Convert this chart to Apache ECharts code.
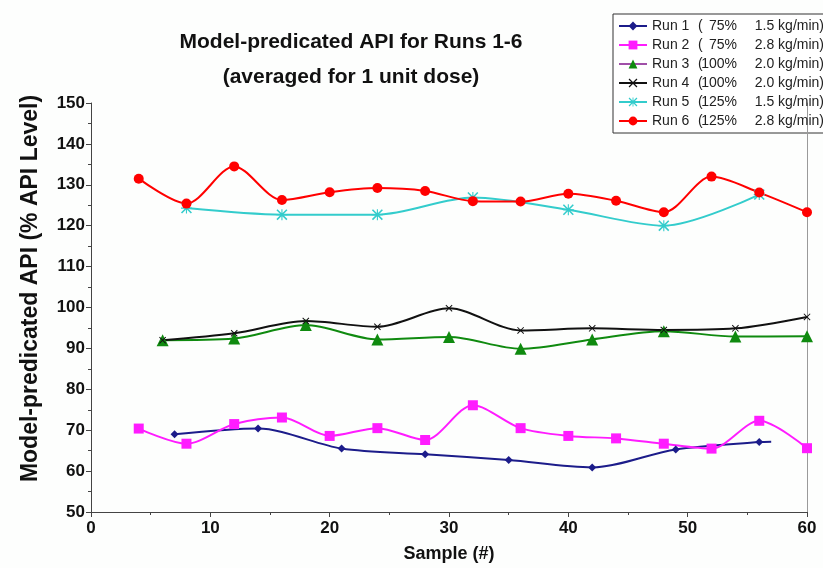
<!DOCTYPE html>
<html>
<head>
<meta charset="utf-8">
<script src="https://cdn.jsdelivr.net/npm/echarts@6/dist/echarts.min.js"></script>
<style>
    html, body { margin: 0; padding: 0; background: #fdfefd; }
    #main { width: 823px; height: 568px; }
</style>
</head>
<body>
<div id="main"></div>
<script>
    // legend labels
    const runNames = ['Run 1', 'Run 2', 'Run 3', 'Run 4', 'Run 5', 'Run 6'];
    const runPct = ['  75%', '  75%', '100%', '100%', '125%', '125%'];
    const runRate = ['1.5 kg/min)', '2.8 kg/min)', '2.0 kg/min)', '2.0 kg/min)', '1.5 kg/min)', '2.8 kg/min)'];

    // sample numbers and predicted API per run
    const run1X = [7, 14, 21, 28, 35, 42, 49, 56, 57];
    const run1Y = [69.0, 70.4, 65.5, 64.1, 62.7, 60.9, 65.3, 67.1, 67.2];
    const run2X = [4, 8, 12, 16, 20, 24, 28, 32, 36, 40, 44, 48, 52, 56, 60];
    const run2Y = [70.4, 66.7, 71.5, 73.1, 68.6, 70.5, 67.6, 76.1, 70.5, 68.6, 68.0, 66.7, 65.5, 72.3, 65.6];
    const run3X = [6, 12, 18, 24, 30, 36, 42, 48, 54, 60];
    const run3Y = [92.0, 92.4, 95.7, 92.2, 92.8, 89.9, 92.2, 94.2, 92.9, 93.0];
    const run4X = [6, 12, 18, 24, 30, 36, 42, 48, 54, 60];
    const run4Y = [92.0, 93.7, 96.7, 95.3, 99.8, 94.4, 94.9, 94.5, 94.9, 97.7];
    const run5X = [8, 16, 24, 32, 40, 48, 56];
    const run5Y = [124.3, 122.7, 122.7, 126.9, 123.9, 120.0, 127.6];
    const run6X = [4, 8, 12, 16, 20, 24, 28, 32, 36, 40, 44, 48, 52, 56, 60];
    const run6Y = [131.5, 125.4, 134.5, 126.3, 128.2, 129.2, 128.5, 126.0, 125.9, 127.8, 126.1, 123.3, 132.0, 128.1, 123.3];

    const xTicks = { min: 0, max: 60, step: 10 };
    const yTicks = { min: 50, max: 150, step: 10 };

    const crossPath = 'path://M0,2L2,0L20,18L18,20ZM18,0L20,2L2,20L0,18Z';
    const starPath = 'path://M9,0L11,0L11,20L9,20ZM0,9L20,9L20,11L0,11ZM0,2L2,0L20,18L18,20ZM18,0L20,2L2,20L0,18Z';

    function pairs(xs, ys) {
        return xs.map((x, i) => [x, ys[i]]);
    }

    // run 1's line runs on a little past its last marker
    const run1Data = pairs(run1X, run1Y).map((p, i) =>
        i === run1X.length - 1 ? { value: p, symbol: 'none' } : p);

    const runs = [
        { data: run1Data, color: '#1c1c8a', symbol: 'diamond', size: 8 },
        { data: pairs(run2X, run2Y), color: '#ff1cff', symbol: 'rect', size: 10 },
        { data: pairs(run3X, run3Y), color: '#0f8a0f', symbol: 'triangle', size: 12 },
        { data: pairs(run4X, run4Y), color: '#111111', symbol: crossPath, size: 7 },
        { data: pairs(run5X, run5Y), color: '#33cccc', symbol: starPath, size: 11 },
        { data: pairs(run6X, run6Y), color: '#ff0000', symbol: 'circle', size: 10 }
    ];

    const font = '"Liberation Sans", Arial, sans-serif';
    const legendText = { fontSize: 14, lineHeight: 14, color: '#222' };

    const option = {
        backgroundColor: '#fdfefd',
        animation: false,
        textStyle: { fontFamily: font },
        title: {
            text: 'Model-predicated API for Runs 1-6\n(averaged for 1 unit dose)',
            left: 346,
            top: 20,
            textAlign: 'center',
            textStyle: { fontSize: 21, fontWeight: 'bold', color: '#111', lineHeight: 35 }
        },
        // legend frame runs off the right edge, as in the source
        graphic: [{
            type: 'rect',
            z: 0,
            shape: { x: 613, y: 14, width: 240, height: 119 },
            style: { fill: '#ffffff', stroke: '#333', lineWidth: 1 }
        }],
        legend: {
            orient: 'vertical',
            left: 613,
            top: 14,
            padding: [5, 0, 4, 5],
            itemWidth: 28,
            itemHeight: 11,
            itemGap: 5,
            z: 5,
            data: runNames.map((n, i) => i === 2
                ? { name: n, lineStyle: { color: '#a050a8' } }
                : { name: n }),
            formatter: function (name) {
                const i = runNames.indexOf(name);
                return '{a|' + name + '}{b|(}{c|' + runPct[i].trim() + '}{d|' + runRate[i] + '}';
            },
            textStyle: {
                fontSize: 14,
                lineHeight: 14,
                color: '#222',
                rich: {
                    a: Object.assign({ width: 46 }, legendText),
                    b: Object.assign({ width: 5 }, legendText),
                    c: Object.assign({ width: 34, align: 'right' }, legendText),
                    d: Object.assign({ width: 87, align: 'right' }, legendText)
                }
            }
        },
        grid: { left: 91, right: 16, top: 103, bottom: 55 },
        xAxis: {
            type: 'value',
            min: xTicks.min,
            max: xTicks.max,
            interval: xTicks.step,
            name: 'Sample (#)',
            nameLocation: 'middle',
            nameGap: 33,
            nameTextStyle: { fontSize: 18, fontWeight: 'bold', color: '#111' },
            axisLine: { lineStyle: { color: '#444', width: 1 } },
            axisTick: { length: 5, lineStyle: { color: '#444' } },
            minorTick: { show: true, splitNumber: 2, length: 3, lineStyle: { color: '#444' } },
            splitLine: { show: false },
            axisLabel: { fontSize: 17, fontWeight: 'bold', color: '#111', margin: 8 }
        },
        yAxis: [{
            type: 'value',
            min: yTicks.min,
            max: yTicks.max,
            interval: yTicks.step,
            name: 'Model-predicated API (% API Level)',
            nameLocation: 'middle',
            nameGap: 49,
            nameTextStyle: { fontSize: 23, fontWeight: 'bold', color: '#111', padding: [0, 0, 0, 38] },
            axisLine: { show: true, lineStyle: { color: '#444', width: 1 } },
            axisTick: { show: true, length: 5, lineStyle: { color: '#444' } },
            minorTick: { show: true, splitNumber: 2, length: 3, lineStyle: { color: '#444' } },
            splitLine: { show: false },
            axisLabel: { fontSize: 17, fontWeight: 'bold', color: '#111', margin: 6 }
        }, {
            type: 'value',
            position: 'right',
            min: yTicks.min,
            max: yTicks.max,
            interval: yTicks.step,
            axisLine: { show: true, lineStyle: { color: '#9a9a9a', width: 1 } },
            axisTick: { show: false },
            axisLabel: { show: false },
            splitLine: { show: false }
        }],
        series: runs.map((r, i) => ({
            name: runNames[i],
            type: 'line',
            data: r.data,
            smooth: 0.3,
            symbol: r.symbol,
            symbolSize: r.size,
            showAllSymbol: true,
            color: r.color,
            lineStyle: { color: r.color, width: 2 },
            itemStyle: { color: r.color }
        }))
    };

    const chart = echarts.init(document.getElementById('main'));
    chart.setOption(option);
</script>
</body>
</html>
